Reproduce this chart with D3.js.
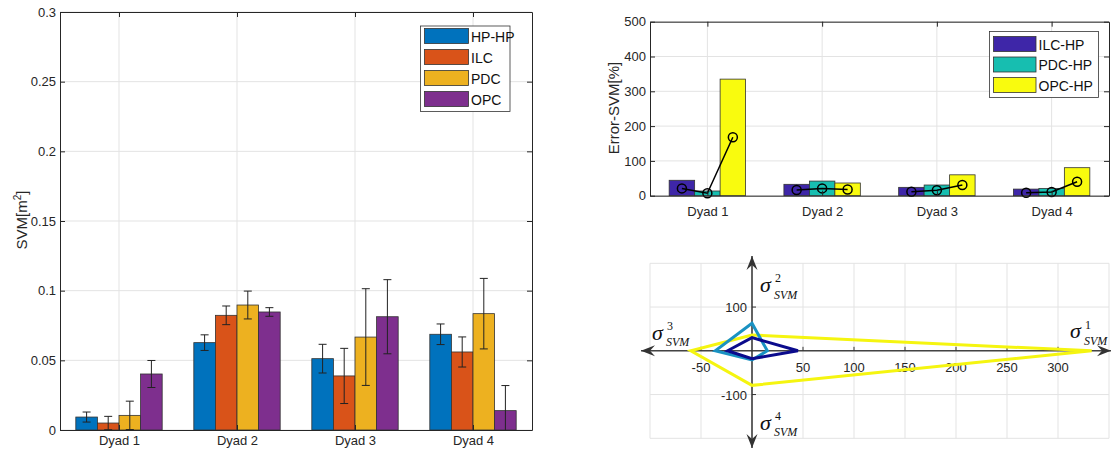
<!DOCTYPE html>
<html>
<head>
<meta charset="utf-8">
<script src="https://cdn.jsdelivr.net/npm/d3@7/dist/d3.min.js"></script>
<style>
  body { margin: 0; background: #fff; }
  text { font-family: "Liberation Sans", Arial, sans-serif; }
</style>
</head>
<body>
<script>
// ---------------- DATA ----------------
const categories = ["Dyad 1", "Dyad 2", "Dyad 3", "Dyad 4"];

// Left chart: SVM [m^2] with error bars
const seriesLeft = ["HP-HP", "ILC", "PDC", "OPC"];
const svmHP  = [0.0093, 0.0627, 0.0512, 0.0687];
const errHP  = [0.0036, 0.0056, 0.0103, 0.0074];
const svmILC = [0.0050, 0.0823, 0.0388, 0.0560];
const errILC = [0.0048, 0.0067, 0.0198, 0.0108];
const svmPDC = [0.0105, 0.0897, 0.0667, 0.0835];
const errPDC = [0.0102, 0.0100, 0.0347, 0.0253];
const svmOPC = [0.0402, 0.0847, 0.0813, 0.0139];
const errOPC = [0.0097, 0.0031, 0.0266, 0.0180];
const yTicksLeft = [0, 0.05, 0.1, 0.15, 0.2, 0.25, 0.3];

// Top-right chart: Error-SVM [%]
const seriesRight = ["ILC-HP", "PDC-HP", "OPC-HP"];
const errBarILC = [44.3, 32.7, 24.0, 19.0];
const errBarPDC = [13.5, 42.0, 30.7, 21.0];
const errBarOPC = [335, 36.5, 60.0, 80.5];
const errLineILC = [21, 16.4, 11.5, 8.6];
const errLinePDC = [7, 21, 15.5, 10.6];
const errLineOPC = [168, 18, 30.7, 40];
const yTicksRight = [0, 100, 200, 300, 400, 500];

// Bottom-right chart: sigma diagram (sigma1, sigma2, sigma3, sigma4)
const radarILC = [45, 30, 24, 18];
const radarPDC = [15, 63, 36, 21];
const radarOPC = [333, 36, 60, 79];
const sigmaXTicks = [-50, 50, 100, 150, 200, 250, 300];
const sigmaYTicks = [100, -100];
const sigmaXGrid = [-100, -50, 0, 50, 100, 150, 200, 250, 300, 350];
const sigmaYGrid = [-200, -100, 0, 100, 200];

// ---------------- STYLE ----------------
const colLeft = ["#0072BD", "#D95319", "#EDB120", "#7E2F8E"];
const colRight = ["#3E26A8", "#17BEB0", "#F9FB0E"];
const colRadar = ["#0B0B8C", "#1A92C2", "#F5F510"];
const axisCol = "#262626";
const gridCol = "#e3e3e3";

const svg = d3.select("body").append("svg").attr("width", 1112).attr("height", 450)
  .style("background", "#fff");

function styleAxis(g, fs) {
  g.select(".domain").attr("stroke", axisCol);
  g.selectAll(".tick line").attr("stroke", axisCol);
  g.selectAll("text").attr("fill", axisCol).style("font-size", fs + "px")
    .style("font-family", '"Liberation Sans", Arial, sans-serif');
}

// ================= LEFT CHART =================
{
  const x = d3.scaleLinear().domain([0.5, 4.5]).range([60, 532]);
  const y = d3.scaleLinear().domain([0, 0.3]).range([430, 12]);
  const unit = x(1) - x(0);
  const bw = 0.183 * unit;

  svg.append("clipPath").attr("id", "clipL").append("rect")
    .attr("x", 60).attr("y", 12).attr("width", 472).attr("height", 418);

  const grid = svg.append("g");
  grid.selectAll("line.h").data(yTicksLeft).join("line")
    .attr("x1", x(0.5)).attr("x2", x(4.5)).attr("y1", d => y(d)).attr("y2", d => y(d))
    .attr("stroke", gridCol).attr("stroke-width", 1);
  grid.selectAll("line.v").data([1, 2, 3, 4]).join("line")
    .attr("x1", d => x(d)).attr("x2", d => x(d)).attr("y1", y(0)).attr("y2", y(0.3))
    .attr("stroke", gridCol).attr("stroke-width", 1);

  const vals = [svmHP, svmILC, svmPDC, svmOPC];
  const errs = [errHP, errILC, errPDC, errOPC];
  vals.forEach((arr, j) => {
    svg.append("g").selectAll("rect").data(arr).join("rect")
      .attr("x", (d, i) => x(i + 1) + (j - 2) * bw)
      .attr("y", d => y(d))
      .attr("width", bw)
      .attr("height", d => y(0) - y(d))
      .attr("fill", colLeft[j]).attr("stroke", "#333").attr("stroke-width", 0.8);
  });
  vals.forEach((arr, j) => {
    const g = svg.append("g").attr("clip-path", "url(#clipL)");
    arr.forEach((d, i) => {
      const cx = x(i + 1) + (j - 1.5) * bw;
      const e = errs[j][i];
      g.append("line").attr("x1", cx).attr("x2", cx).attr("y1", y(d - e)).attr("y2", y(d + e))
        .attr("stroke", "#222").attr("stroke-width", 1);
      [d - e, d + e].forEach(v => {
        g.append("line").attr("x1", cx - 4).attr("x2", cx + 4).attr("y1", y(v)).attr("y2", y(v))
          .attr("stroke", "#222").attr("stroke-width", 1);
      });
    });
  });

  const ax = svg.append("g").attr("transform", "translate(60,0)")
    .call(d3.axisLeft(y).tickValues(yTicksLeft).tickFormat(d => String(d)).tickSizeInner(-5).tickSizeOuter(0).tickPadding(4));
  styleAxis(ax, 13);
  const ar = svg.append("g").attr("transform", "translate(532,0)")
    .call(d3.axisRight(y).tickValues(yTicksLeft).tickFormat("").tickSizeInner(-5).tickSizeOuter(0));
  styleAxis(ar, 13);
  const ab = svg.append("g").attr("transform", "translate(0,430)")
    .call(d3.axisBottom(x).tickValues([1, 2, 3, 4]).tickFormat(d => categories[d - 1]).tickSizeInner(-5).tickSizeOuter(0).tickPadding(6));
  styleAxis(ab, 13);
  const at = svg.append("g").attr("transform", "translate(0,12)")
    .call(d3.axisTop(x).tickValues([1, 2, 3, 4]).tickFormat("").tickSizeInner(-5).tickSizeOuter(0));
  styleAxis(at, 13);

  svg.append("text").attr("transform", "translate(27,220) rotate(-90)")
    .attr("text-anchor", "middle").attr("fill", axisCol).style("font-size", "15px")
    .html('SVM[m<tspan dy="-6" style="font-size:10px">2</tspan><tspan dy="6">]</tspan>');

  // legend
  const lg = svg.append("g");
  lg.append("rect").attr("x", 420.5).attr("y", 26).attr("width", 89.5).attr("height", 85.5)
    .attr("fill", "#fff").attr("stroke", "#333").attr("stroke-width", 0.8);
  seriesLeft.forEach((s, j) => {
    const ty = 28.5 + j * 21;
    lg.append("rect").attr("x", 424.5).attr("y", ty).attr("width", 44).attr("height", 15)
      .attr("fill", colLeft[j]).attr("stroke", "#333").attr("stroke-width", 0.8);
    lg.append("text").attr("x", 471).attr("y", ty + 13).attr("fill", "#111")
      .style("font-size", "14px").text(s);
  });
}

// ================= TOP RIGHT CHART =================
{
  const x = d3.scaleLinear().domain([0.5, 4.5]).range([650, 1109]);
  const y = d3.scaleLinear().domain([0, 500]).range([195.7, 21.7]);
  const unit = x(1) - x(0);
  const bw = 0.222 * unit;

  const grid = svg.append("g");
  grid.selectAll("line.h").data(yTicksRight).join("line")
    .attr("x1", x(0.5)).attr("x2", x(4.5)).attr("y1", d => y(d)).attr("y2", d => y(d))
    .attr("stroke", gridCol);
  grid.selectAll("line.v").data([1, 2, 3, 4]).join("line")
    .attr("x1", d => x(d)).attr("x2", d => x(d)).attr("y1", y(0)).attr("y2", y(500))
    .attr("stroke", gridCol);

  const bars = [errBarILC, errBarPDC, errBarOPC];
  bars.forEach((arr, j) => {
    svg.append("g").selectAll("rect").data(arr).join("rect")
      .attr("x", (d, i) => x(i + 1) + (j - 1.5) * bw)
      .attr("y", d => y(d))
      .attr("width", bw)
      .attr("height", d => y(0) - y(d))
      .attr("fill", colRight[j]).attr("stroke", "#333").attr("stroke-width", 0.8);
  });

  const lines = [errLineILC, errLinePDC, errLineOPC];
  categories.forEach((c, i) => {
    const pts = lines.map((arr, j) => [x(i + 1) + (j - 1) * bw, y(arr[i])]);
    svg.append("path").attr("d", d3.line()(pts)).attr("fill", "none")
      .attr("stroke", "#000").attr("stroke-width", 1.5);
    svg.append("g").selectAll("circle").data(pts).join("circle")
      .attr("cx", d => d[0]).attr("cy", d => d[1]).attr("r", 4.5)
      .attr("fill", "none").attr("stroke", "#000").attr("stroke-width", 1.5);
  });

  const ax = svg.append("g").attr("transform", "translate(650,0)")
    .call(d3.axisLeft(y).tickValues(yTicksRight).tickSizeInner(-5).tickSizeOuter(0).tickPadding(4));
  styleAxis(ax, 13);
  const ar = svg.append("g").attr("transform", "translate(1109,0)")
    .call(d3.axisRight(y).tickValues(yTicksRight).tickFormat("").tickSizeInner(-5).tickSizeOuter(0));
  styleAxis(ar, 13);
  const ab = svg.append("g").attr("transform", "translate(0,195.7)")
    .call(d3.axisBottom(x).tickValues([1, 2, 3, 4]).tickFormat(d => categories[d - 1]).tickSizeInner(-5).tickSizeOuter(0).tickPadding(11));
  styleAxis(ab, 13);
  const at = svg.append("g").attr("transform", "translate(0,21.7)")
    .call(d3.axisTop(x).tickValues([1, 2, 3, 4]).tickFormat("").tickSizeInner(-5).tickSizeOuter(0));
  styleAxis(at, 13);

  svg.append("text").attr("transform", "translate(619,108) rotate(-90)")
    .attr("text-anchor", "middle").attr("fill", axisCol).style("font-size", "15px")
    .text("Error-SVM[%]");

  const lg = svg.append("g");
  lg.append("rect").attr("x", 989.5).attr("y", 31.5).attr("width", 109).attr("height", 66)
    .attr("fill", "#fff").attr("stroke", "#333").attr("stroke-width", 0.8);
  seriesRight.forEach((s, j) => {
    const ty = 36.5 + j * 20.5;
    lg.append("rect").attr("x", 993.5).attr("y", ty).attr("width", 42.5).attr("height", 15)
      .attr("fill", colRight[j]).attr("stroke", "#333").attr("stroke-width", 0.8);
    lg.append("text").attr("x", 1038.5).attr("y", ty + 13).attr("fill", "#111")
      .style("font-size", "14px").text(s);
  });
}

// ================= BOTTOM RIGHT (sigma) CHART =================
{
  const x = d3.scaleLinear().domain([-100, 350]).range([650, 1109]);
  const y = d3.scaleLinear().domain([-200, 200]).range([438.3, 263.3]);

  const grid = svg.append("g");
  grid.selectAll("line.v").data(sigmaXGrid).join("line")
    .attr("x1", d => x(d)).attr("x2", d => x(d)).attr("y1", y(-200)).attr("y2", y(200))
    .attr("stroke", gridCol);
  grid.selectAll("line.h").data(sigmaYGrid).join("line")
    .attr("x1", x(-100)).attr("x2", x(350)).attr("y1", d => y(d)).attr("y2", d => y(d))
    .attr("stroke", gridCol);

  // arrow marker
  const defs = svg.append("defs");
  defs.append("marker").attr("id", "arr").attr("viewBox", "-15 -6 16 12")
    .attr("refX", 0).attr("refY", 0).attr("markerWidth", 16).attr("markerHeight", 12)
    .attr("markerUnits", "userSpaceOnUse").attr("orient", "auto-start-reverse")
    .append("path").attr("d", "M0,0 L-14,-5.5 L-9,0 L-14,5.5 Z").attr("fill", "#333");

  // axes with arrows
  svg.append("line").attr("x1", 641).attr("x2", 1111).attr("y1", y(0)).attr("y2", y(0))
    .attr("stroke", "#444").attr("stroke-width", 1.5)
    .attr("marker-start", "url(#arr)").attr("marker-end", "url(#arr)");
  svg.append("line").attr("x1", x(0)).attr("x2", x(0)).attr("y1", 256).attr("y2", 448)
    .attr("stroke", "#333").attr("stroke-width", 1.5)
    .attr("marker-start", "url(#arr)").attr("marker-end", "url(#arr)");

  // ticks
  svg.append("g").selectAll("line").data(sigmaXTicks).join("line")
    .attr("x1", d => x(d)).attr("x2", d => x(d)).attr("y1", y(0)).attr("y2", y(0) - 4)
    .attr("stroke", "#333");
  svg.append("g").selectAll("line").data(sigmaYTicks).join("line")
    .attr("x1", x(0)).attr("x2", x(0) + 4).attr("y1", d => y(d)).attr("y2", d => y(d))
    .attr("stroke", "#333");
  svg.append("g").selectAll("text").data(sigmaXTicks).join("text")
    .attr("x", d => x(d)).attr("y", y(0) + 21).attr("text-anchor", "middle")
    .attr("fill", axisCol).style("font-size", "13px").text(d => d);
  svg.append("g").selectAll("text").data(sigmaYTicks).join("text")
    .attr("x", x(0) - 5).attr("y", d => y(d) + 5).attr("text-anchor", "end")
    .attr("fill", axisCol).style("font-size", "13px").text(d => d);

  // polygons
  const radars = [radarILC, radarPDC, radarOPC];
  const order = [2, 1, 0];
  order.forEach(j => {
    const r = radars[j];
    const pts = [[x(r[0]), y(0)], [x(0), y(r[1])], [x(-r[2]), y(0)], [x(0), y(-r[3])]];
    svg.append("path").attr("d", d3.line()(pts) + "Z").attr("fill", "none")
      .attr("stroke", colRadar[j]).attr("stroke-width", 3).attr("stroke-linejoin", "miter");
  });

  // sigma labels
  const serif = '"Liberation Serif", "Times New Roman", serif';
  const sig = [
    { n: "2", sx: 760, sy: 292, px: 775, py: 282, bx: 774, by: 299 },
    { n: "3", sx: 652, sy: 340, px: 667, py: 330, bx: 666, by: 346 },
    { n: "4", sx: 760, sy: 430, px: 775, py: 420, bx: 774, by: 436 },
    { n: "1", sx: 1070, sy: 338, px: 1085, py: 329, bx: 1084, by: 345 }
  ];
  sig.forEach(s => {
    svg.append("text").attr("x", s.sx).attr("y", s.sy).style("font-family", serif)
      .style("font-style", "italic").style("font-size", "22px").attr("fill", "#111").text("σ");
    svg.append("text").attr("x", s.px).attr("y", s.py).style("font-family", serif)
      .style("font-size", "12px").attr("fill", "#111").text(s.n);
    svg.append("text").attr("x", s.bx).attr("y", s.by).style("font-family", serif)
      .style("font-style", "italic").style("font-size", "12px").attr("fill", "#111").text("SVM");
  });
}
</script>
</body>
</html>
